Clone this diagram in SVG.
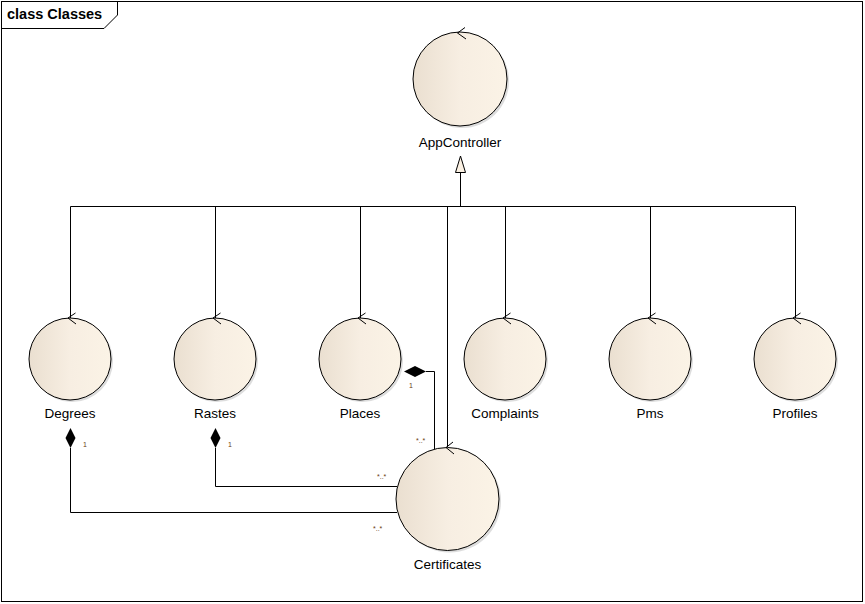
<svg xmlns="http://www.w3.org/2000/svg" width="865" height="604" viewBox="0 0 865 604">
<style>
.lbl{font-family:"Liberation Sans",Arial,sans-serif;font-size:13.5px;fill:#000;text-anchor:middle}
.ttl{font-family:"Liberation Sans",Arial,sans-serif;font-size:14.5px;font-weight:bold;fill:#000}
.mul{font-family:"Liberation Sans",Arial,sans-serif;font-size:7px;fill:#6a3a10}
.ln{fill:none;stroke:#000;stroke-width:1}
.body{fill:url(#g);stroke:#000;stroke-width:1}
.shadow{fill:#bbb;opacity:0.5}
.chev{fill:none;stroke:#000;stroke-width:1}
</style>
<defs>
<linearGradient id="g" x1="0" y1="0" x2="1" y2="0">
<stop offset="0" stop-color="#EADFD0"/>
<stop offset="0.5" stop-color="#F7EEE2"/>
<stop offset="1" stop-color="#FBF3E6"/>
</linearGradient>
</defs>
<rect width="865" height="604" fill="#fff"/>
<rect x="1.5" y="1.5" width="861" height="600" fill="none" stroke="#000"/>
<path d="M1.5 28.5 H104 L117.5 15 V1.5" fill="none" stroke="#000"/>
<text class="ttl" x="7" y="18.5">class Classes</text>

<g id="connectors">
  <polyline class="ln" points="460.5,172 460.5,206.5"/>
  <polyline class="ln" points="70.5,206.5 795.5,206.5"/>
  <polyline class="ln" points="70.5,206.5 70.5,318"/>
  <polyline class="ln" points="215.5,206.5 215.5,318"/>
  <polyline class="ln" points="360.5,206.5 360.5,318"/>
  <polyline class="ln" points="505.5,206.5 505.5,318"/>
  <polyline class="ln" points="650.5,206.5 650.5,318"/>
  <polyline class="ln" points="795.5,206.5 795.5,318"/>
  <polyline class="ln" points="447.5,206.5 447.5,447"/>
  <polygon points="460.5,156 455.5,172.5 465.5,172.5" fill="#FBF1E3" stroke="#000"/>
  <polyline class="ln" points="426,371.5 434.5,371.5 434.5,449"/>
  <polygon points="404,371.5 415,366 426,371.5 415,377" fill="#000"/>
  <polyline class="ln" points="215.5,448 215.5,486.5 397,486.5"/>
  <polygon points="215.5,428 220.5,438 215.5,448 210.5,438" fill="#000"/>
  <polyline class="ln" points="70.5,448 70.5,512.5 397,512.5"/>
  <polygon points="70.5,428 75.5,438 70.5,448 65.5,438" fill="#000"/>
  <text class="mul" x="409" y="388">1</text>
  <text class="mul" x="416" y="443">*..*</text>
  <text class="mul" x="83" y="447">1</text>
  <text class="mul" x="228" y="447">1</text>
  <text class="mul" x="377" y="479">*..*</text>
  <text class="mul" x="373" y="531">*..*</text>
</g>

<g id="AppController">
  <circle class="shadow" cx="462" cy="81" r="47"/>
  <circle class="body" cx="460" cy="79" r="47"/>
  <polyline class="chev" points="465,27.5 457.5,33 466,39"/>
  <text class="lbl" x="460" y="147">AppController</text>
</g>
<g id="Degrees">
  <circle class="shadow" cx="72" cy="361" r="41"/>
  <circle class="body" cx="70" cy="359" r="41"/>
  <polyline class="chev" points="75.5,313 68,318 76,324"/>
  <text class="lbl" x="70" y="418">Degrees</text>
</g>
<g id="Rastes">
  <circle class="shadow" cx="217" cy="361" r="41"/>
  <circle class="body" cx="215" cy="359" r="41"/>
  <polyline class="chev" points="220.5,313 213,318 221,324"/>
  <text class="lbl" x="215" y="418">Rastes</text>
</g>
<g id="Places">
  <circle class="shadow" cx="362" cy="361" r="41"/>
  <circle class="body" cx="360" cy="359" r="41"/>
  <polyline class="chev" points="365.5,313 358,318 366,324"/>
  <text class="lbl" x="360" y="418">Places</text>
</g>
<g id="Complaints">
  <circle class="shadow" cx="507" cy="361" r="41"/>
  <circle class="body" cx="505" cy="359" r="41"/>
  <polyline class="chev" points="510.5,313 503,318 511,324"/>
  <text class="lbl" x="505" y="418">Complaints</text>
</g>
<g id="Pms">
  <circle class="shadow" cx="652" cy="361" r="41"/>
  <circle class="body" cx="650" cy="359" r="41"/>
  <polyline class="chev" points="655.5,313 648,318 656,324"/>
  <text class="lbl" x="650" y="418">Pms</text>
</g>
<g id="Profiles">
  <circle class="shadow" cx="797" cy="361" r="41"/>
  <circle class="body" cx="795" cy="359" r="41"/>
  <polyline class="chev" points="800.5,313 793,318 801,324"/>
  <text class="lbl" x="795" y="418">Profiles</text>
</g>
<g id="Certificates">
  <circle class="shadow" cx="449.5" cy="501" r="51.5"/>
  <circle class="body" cx="447.5" cy="499" r="51.5"/>
  <polyline class="chev" points="453,442 446,447.5 454,454"/>
  <text class="lbl" x="447.5" y="569">Certificates</text>
</g>
</svg>
